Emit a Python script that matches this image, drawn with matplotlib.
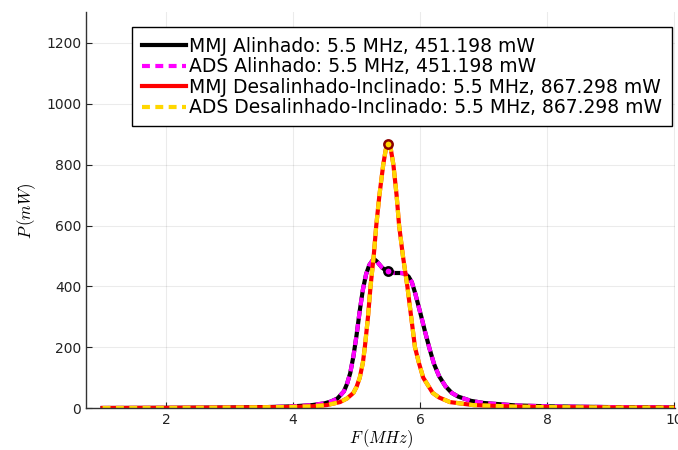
#!/usr/bin/env python
# -*- coding: utf-8 -*-
"""Power vs frequency: aligned and misaligned-tilted coils, MMJ model vs ADS."""
import matplotlib.pyplot as plt

# frequency (MHz) and power (mW)
f_alinhado = [1.0, 2.0, 3.0, 3.6, 4.0, 4.3, 4.5, 4.6, 4.7, 4.8, 4.85, 4.9, 4.95,
              5.0, 5.05, 5.1, 5.15, 5.2, 5.25, 5.28, 5.32, 5.36, 5.4, 5.45, 5.5,
              5.55, 5.6, 5.65, 5.7, 5.76, 5.82, 5.87, 5.92, 5.97, 6.02, 6.08,
              6.15, 6.22, 6.3, 6.4, 6.5, 6.6, 6.8, 7.0, 7.5, 8.0, 9.0, 10.0]
p_alinhado = [0.5, 1.0, 2.0, 3.5, 6.0, 10.0, 16.0, 22.0, 32.0, 55.0, 80.0, 115.0,
              170.0, 240.0, 320.0, 390.0, 440.0, 470.0, 485.0, 489.0, 482.0,
              472.0, 462.0, 454.0, 451.198, 446.0, 444.0, 444.0, 444.0, 442.0,
              432.0, 414.0, 380.0, 340.0, 300.0, 250.0, 195.0, 145.0, 105.0,
              72.0, 50.0, 38.0, 24.0, 17.0, 9.0, 6.0, 3.5, 2.5]

f_desalinhado = [1.0, 2.0, 3.0, 3.6, 4.0, 4.3, 4.53, 4.74, 4.85, 4.95, 5.0, 5.05,
                 5.1, 5.13, 5.18, 5.22, 5.27, 5.31, 5.36, 5.42, 5.46, 5.5, 5.54,
                 5.58, 5.63, 5.67, 5.73, 5.8, 5.86, 5.92, 5.98, 6.05, 6.2, 6.3,
                 6.47, 6.84, 7.5, 8.0, 9.0, 10.0]
p_desalinhado = [0.5, 1.0, 2.0, 3.0, 4.0, 6.0, 10.0, 20.0, 32.0, 50.0, 70.0,
                 100.0, 150.0, 200.0, 300.0, 400.0, 500.0, 600.0, 700.0, 800.0,
                 850.0, 867.298, 850.0, 800.0, 700.0, 600.0, 500.0, 400.0, 300.0,
                 200.0, 150.0, 100.0, 50.0, 35.0, 20.0, 10.0, 5.0, 3.5, 2.0, 1.5]

f_res = 5.5
p_res_alinhado = 451.198
p_res_desalinhado = 867.298

labels = [
    "MMJ Alinhado: 5.5 MHz, 451.198 mW",
    "ADS Alinhado: 5.5 MHz, 451.198 mW",
    "MMJ Desalinhado-Inclinado: 5.5 MHz, 867.298 mW",
    "ADS Desalinhado-Inclinado: 5.5 MHz, 867.298 mW",
]

plt.rcParams["mathtext.fontset"] = "cm"

fig = plt.figure(figsize=(6.78, 4.5), dpi=100)
ax = fig.add_axes([0.127, 0.093, 0.869, 0.88])

lw = 3
dash = (0, (1.9, 1.3))
ax.plot(f_alinhado, p_alinhado, color="black", lw=lw, label=labels[0])
ax.plot(f_alinhado, p_alinhado, color="#ff00ff", lw=lw, ls=dash, label=labels[1])
ax.plot(f_desalinhado, p_desalinhado, color="#ff0000", lw=lw, label=labels[2])
ax.plot(f_desalinhado, p_desalinhado, color="#ffd700", lw=lw, ls=dash, label=labels[3])

# resonance markers
ax.plot([f_res], [p_res_alinhado], "o", ms=6, mfc="#ff00ff", mec="black", mew=1.8)
ax.plot([f_res], [p_res_desalinhado], "o", ms=6, mfc="#ffd700", mec="#8b0000", mew=1.8)

ax.set_xlim(0.74, 10.02)
ax.set_ylim(0, 1301)
ax.set_xticks([2, 4, 6, 8, 10])
ax.set_yticks([0, 200, 400, 600, 800, 1000, 1200])
ax.set_xlabel(r"$F\,(MHz)$", fontsize=12, labelpad=0)
ax.set_ylabel(r"$P\,(mW)$", fontsize=12, labelpad=6)

ax.grid(True, color="black", alpha=0.08, lw=0.8)
ax.spines["top"].set_visible(False)
ax.spines["right"].set_visible(False)
for s in ("left", "bottom"):
    ax.spines[s].set_color("#333333")
    ax.spines[s].set_linewidth(1.0)
ax.tick_params(direction="in", length=4, labelsize=10, colors="#222222",
               labelcolor="#222222")

leg = ax.legend(loc="upper right", bbox_to_anchor=(0.994, 0.962), borderaxespad=0,
                fontsize=13.5, frameon=True, fancybox=False, handlelength=2.35,
                handletextpad=0.2, labelspacing=0.08, borderpad=0.5,
                framealpha=1)
leg.get_frame().set_edgecolor("black")
leg.get_frame().set_linewidth(1.0)

fig.savefig("out.png", dpi=100)
